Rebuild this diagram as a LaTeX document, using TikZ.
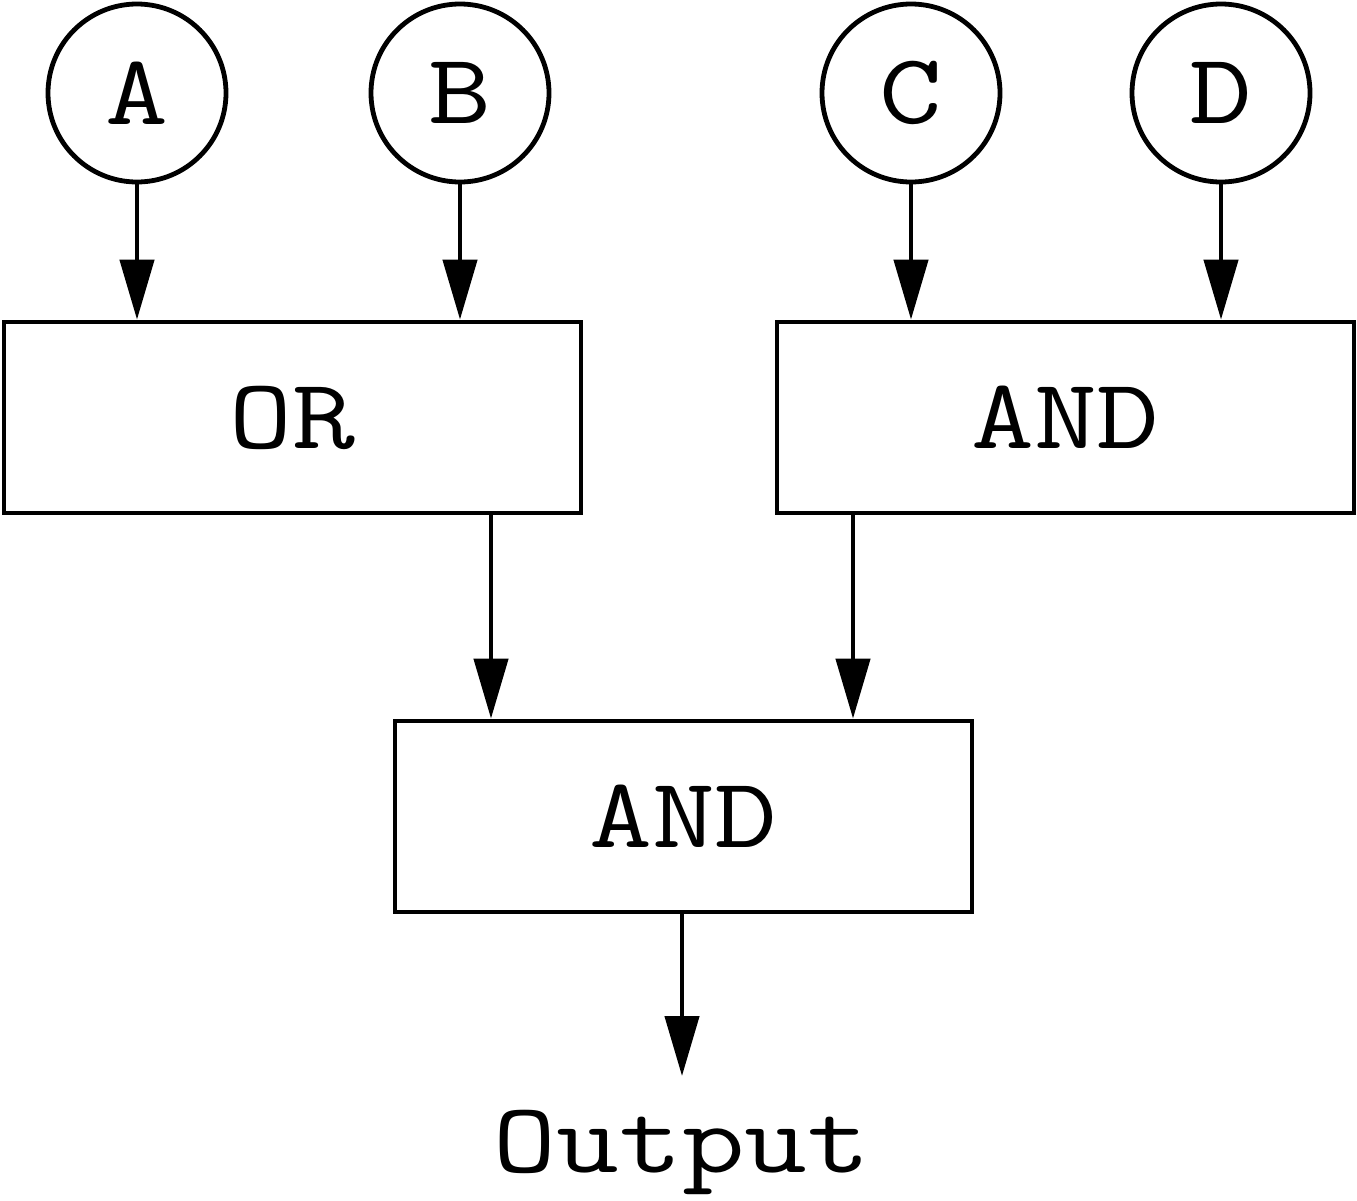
\documentclass[tikz,border=0pt]{standalone}
\usetikzlibrary{arrows.meta}
\newcommand{\wtxt}[1]{\scalebox{1.22}[1]{#1}}
\begin{document}
\begin{tikzpicture}[x=1pt,y=-1pt,
  lbl/.style={font=\ttfamily\fontsize{100}{110}\selectfont},
  inp/.style={lbl,draw,line width=4.8pt,circle,minimum size=178pt,inner sep=0pt},
  gate/.style={lbl,draw,line width=4.8pt,rectangle,minimum width=577pt,minimum height=191pt,inner sep=0pt},
  conn/.style={line width=4.5pt,-{Triangle[length=60pt,width=34pt]}},
  every node/.style={anchor=center}]
\useasboundingbox (0,0) rectangle (1357,1200);
\node[inp] (A) at (137,93) {\wtxt{A}};
\node[inp] (B) at (460,93) {\wtxt{B}};
\node[inp] (C) at (911,93) {\wtxt{C}};
\node[inp] (D) at (1221,93) {\wtxt{D}};
\node[gate] (or) at (292.5,417.5) {\wtxt{OR}};
\node[gate] (and1) at (1065.5,417.5) {\wtxt{AND}};
\node[gate] (and2) at (683.5,816.5) {\wtxt{AND}};
\node[lbl,inner sep=0pt] (out) at (682,1152) {\wtxt{Output}};
\coordinate (outtip) at (682,1076);
\draw[conn] (A.south) -- (A.south |- or.north);
\draw[conn] (B.south) -- (B.south |- or.north);
\draw[conn] (C.south) -- (C.south |- and1.north);
\draw[conn] (D.south) -- (D.south |- and1.north);
\draw[conn] (or.south -| 491,0) -- (and2.north -| 491,0);
\draw[conn] (and1.south -| 853,0) -- (and2.north -| 853,0);
\draw[conn] (and2.south -| 682,0) -- (outtip);
\end{tikzpicture}
\end{document}
